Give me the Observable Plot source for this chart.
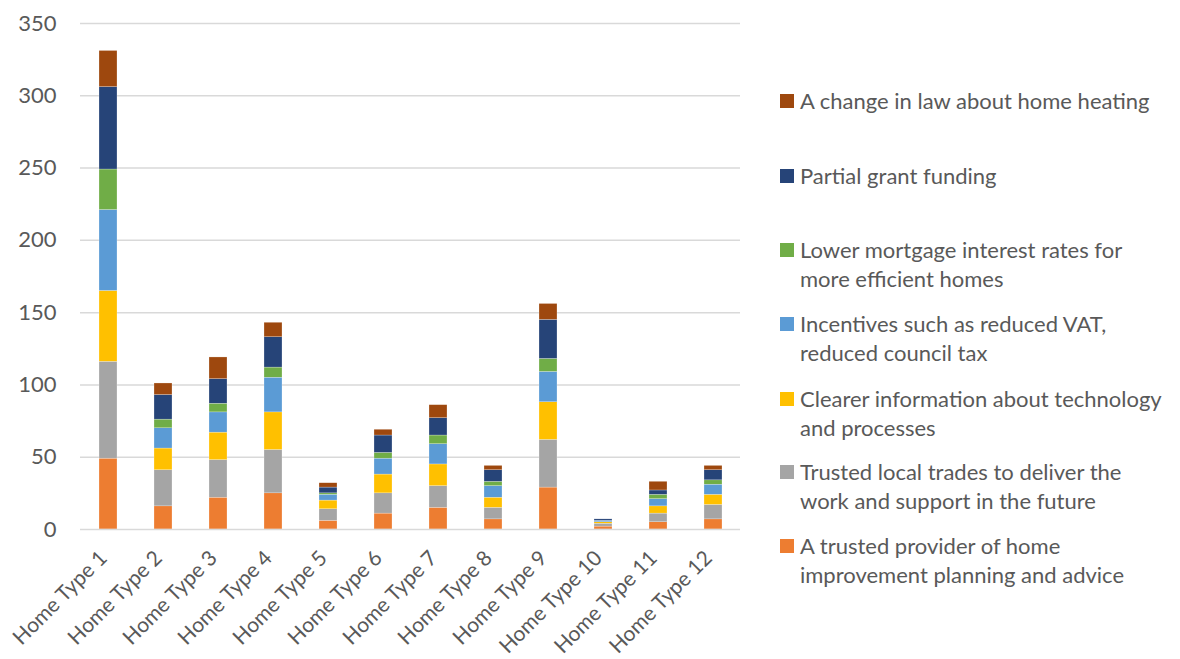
<!DOCTYPE html>
<html>
<head>
<meta charset="utf-8">
<script src="https://cdn.jsdelivr.net/npm/d3@7"></script>
<script src="https://cdn.jsdelivr.net/npm/@observablehq/plot@0.6"></script>
<style>
  html, body { margin: 0; padding: 0; background: #fff; }
  #wrap { position: relative; width: 1180px; height: 659px; font-family: Lato, "Noto Sans", sans-serif; }
  #chart { position: absolute; left: 0; top: 0; }
  .legend-item { position: absolute; left: 780px; display: flex; align-items: flex-start; }
  .swatch { width: 14px; height: 14px; margin-top: 8px; margin-right: 6px; flex: none; }
  .legend-text { font-size: 22px; line-height: 29px; color: #595959; white-space: nowrap; }
</style>
</head>
<body>
<div id="wrap">
  <div id="chart"></div>
</div>
<script>
// Home types along the x axis
const homeTypes = ["Home Type 1", "Home Type 2", "Home Type 3", "Home Type 4", "Home Type 5", "Home Type 6",
                   "Home Type 7", "Home Type 8", "Home Type 9", "Home Type 10", "Home Type 11", "Home Type 12"];

// Series, bottom of the stack first
const seriesNames = [
  "A trusted provider of home improvement planning and advice",
  "Trusted local trades to deliver the work and support in the future",
  "Clearer information about technology and processes",
  "Incentives such as reduced VAT, reduced council tax",
  "Lower mortgage interest rates for more efficient homes",
  "Partial grant funding",
  "A change in law about home heating"
];

// Legend lines (wrapped as shown in the key)
const legendLines = [
  ["A trusted provider of home", "improvement planning and advice"],
  ["Trusted local trades to deliver the", "work and support in the future"],
  ["Clearer information about technology", "and processes"],
  ["Incentives such as reduced VAT,", "reduced council tax"],
  ["Lower mortgage interest rates for", "more efficient homes"],
  ["Partial grant funding"],
  ["A change in law about home heating"]
];

const seriesColors = ["#ED7D31", "#A5A5A5", "#FFC000", "#5B9BD5", "#70AD47", "#264478", "#9E480E"];

// Counts per series, one value per home type
const trustedProvider   = [49, 16, 22, 25, 6, 11, 15, 7, 29, 2, 5, 7];
const trustedTrades     = [67, 25, 26, 30, 8, 14, 15, 8, 33, 2, 6, 10];
const clearerInfo       = [49, 15, 19, 26, 6, 13, 15, 7, 26, 1, 5, 7];
const incentives        = [56, 14, 14, 24, 4, 11, 14, 8, 21, 1, 5, 7];
const lowerMortgage     = [28, 6, 6, 7, 1, 4, 6, 3, 9, 0, 3, 3];
const partialGrant      = [57, 17, 17, 21, 4, 12, 12, 8, 27, 1, 3, 7];
const changeInLaw       = [25, 8, 15, 10, 3, 4, 9, 3, 11, 0, 6, 3];

const yTicks = [0, 50, 100, 150, 200, 250, 300, 350];

const seriesValues = [trustedProvider, trustedTrades, clearerInfo, incentives, lowerMortgage, partialGrant, changeInLaw];

// Long-format table for the stacked bars
const rows = [];
seriesNames.forEach((s, si) => {
  homeTypes.forEach((h, hi) => {
    rows.push({home: h, series: s, value: seriesValues[si][hi]});
  });
});

const chart = Plot.plot({
  width: 750,
  height: 659,
  marginLeft: 80,
  marginRight: 10,
  marginTop: 23,
  marginBottom: 130,
  style: {fontFamily: "Lato, 'Noto Sans', sans-serif", color: "#595959", background: "#fff"},
  x: {domain: homeTypes, paddingInner: 0.68, paddingOuter: 0.34, label: null},
  y: {domain: [0, 350], ticks: yTicks, label: null},
  color: {domain: seriesNames, range: seriesColors},
  marks: [
    Plot.gridY(yTicks.filter(d => d > 0), {stroke: "#d9d9d9", strokeOpacity: 1, strokeWidth: 1.5}),
    Plot.barY(rows, {x: "home", y: "value", fill: "series", stroke: "#fff", strokeWidth: 0.4, strokeOpacity: 0.6}),
    Plot.ruleY([0], {stroke: "#d9d9d9", strokeWidth: 1.5}),
    Plot.axisY(yTicks, {tickSize: 0, tickPadding: 24, fontSize: 22, fill: "#595959", label: null}),
    Plot.axisX({tickSize: 0, tickPadding: 16, tickRotate: -45, fontSize: 21, fill: "#595959", label: null, dx: -5, dy: 9})
  ]
});
document.getElementById("chart").appendChild(chart);

// Legend on the right, top entry = top of the stack
const wrap = document.getElementById("wrap");
const legendTops = [531, 457, 384, 309, 235, 161, 86];
seriesNames.forEach((s, i) => {
  const item = document.createElement("div");
  item.className = "legend-item";
  item.style.top = legendTops[i] + "px";
  const sw = document.createElement("div");
  sw.className = "swatch";
  sw.style.background = seriesColors[i];
  const tx = document.createElement("div");
  tx.className = "legend-text";
  tx.innerHTML = legendLines[i].join("<br>");
  item.appendChild(sw);
  item.appendChild(tx);
  wrap.appendChild(item);
});
</script>
</body>
</html>
